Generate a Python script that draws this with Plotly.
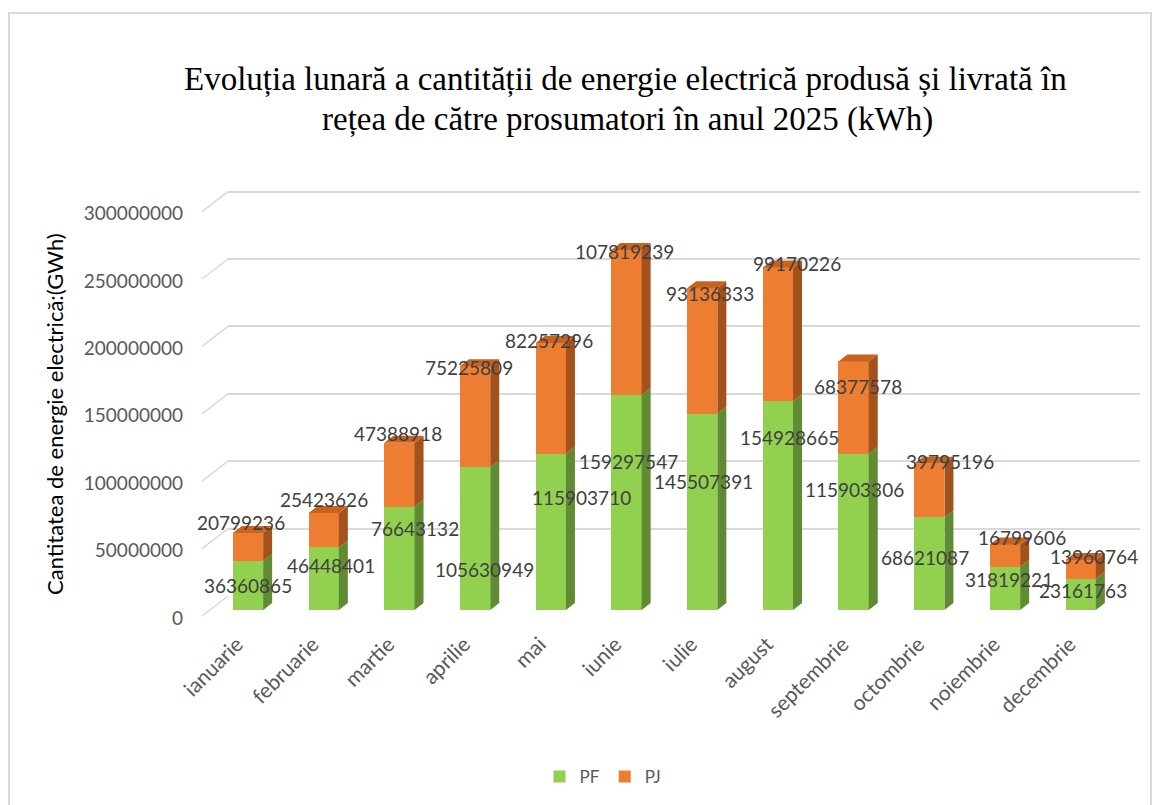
import plotly.graph_objects as go

# ---- data (kWh) ----
months = ["ianuarie", "februarie", "martie", "aprilie", "mai", "iunie",
          "iulie", "august", "septembrie", "octombrie", "noiembrie", "decembrie"]
pf_values = [36360865, 46448401, 76643132, 105630949, 115903710, 159297547,
             145507391, 154928665, 115903306, 68621087, 31819221, 23161763]
pj_values = [20799236, 25423626, 47388918, 75225809, 82257296, 107819239,
             93136333, 99170226, 68377578, 39795196, 16799606, 13960764]
y_ticks = [0, 50000000, 100000000, 150000000, 200000000, 250000000, 300000000]

# ---- label nudges (px) for the data labels ----
pf_xshift = [0, 7, 16, 9, 31, 2, 1, 12, 1, -4, 4, 2]
pf_yshift = [0, 13, 30, -31, 34, 41, 30, 68, 42, 6, 9, 4]
pj_xshift = [-7, 0, -1, -6, -2, -2, 8, 19, 4, 21, 17, 13]
pj_yshift = [10, 14, 9, -1, 2, -2, -5, 4, -25, 2, 7, 3]

# ---- geometry ----
W, H = 1157, 805
Y_MAX = 310e6
K = 1.348e-6              # px per kWh on the value axis
BAR_W = 0.4
DX = 9 / 75.7             # depth of the 3D side, in category units
DY = 7 / K                # depth of the 3D side, in value units

bars_left, bars_right = 202, 1140
bars_zero_px = 610
grid_left = 228
grid_zero_px = 596
cat0_px, cat_step = 248, 75.7


def px_x(p):
    return p / W


def px_y(p):
    return 1 - p / H


GREEN, GREEN_SIDE = "#92D050", "#5F8B33"
ORANGE, ORANGE_SIDE, ORANGE_TOP = "#ED7D31", "#A4521C", "#C8621F"
GRID = "#D9D9D9"

fig = go.Figure()

# back-wall grid lives on its own subplot (drawn first, so below the bars)
fig.add_trace(go.Scatter(x=[None], y=[None], xaxis="x", yaxis="y",
                         showlegend=False, hoverinfo="skip"))

fig.add_trace(go.Bar(x=list(range(12)), y=pf_values, name="PF", width=BAR_W,
                     marker=dict(color=GREEN, line=dict(width=0)),
                     xaxis="x2", yaxis="y2"))
fig.add_trace(go.Bar(x=list(range(12)), y=pj_values, name="PJ", width=BAR_W,
                     marker=dict(color=ORANGE, line=dict(width=0)),
                     xaxis="x2", yaxis="y2"))

shapes = []
# 3D sides and tops of the columns
for i, (pf, pj) in enumerate(zip(pf_values, pj_values)):
    xl, xr = i - BAR_W / 2, i + BAR_W / 2
    for y0, y1, col in ((0, pf, GREEN_SIDE), (pf, pf + pj, ORANGE_SIDE)):
        shapes.append(dict(
            type="path", xref="x2", yref="y2", layer="above",
            path=f"M{xr},{y0} L{xr + DX},{y0 + DY} L{xr + DX},{y1 + DY} L{xr},{y1} Z",
            fillcolor=col, line=dict(width=0)))
    top = pf + pj
    shapes.append(dict(
        type="path", xref="x2", yref="y2", layer="above",
        path=f"M{xl},{top} L{xl + DX},{top + DY} L{xr + DX},{top + DY} L{xr},{top} Z",
        fillcolor=ORANGE_TOP, line=dict(width=0)))

# short diagonal floor lines from the value labels to the back wall
for v in y_ticks:
    shapes.append(dict(
        type="line", xref="paper", yref="paper", layer="below",
        x0=px_x(bars_left), y0=px_y(grid_zero_px + 20 - v * K),
        x1=px_x(grid_left), y1=px_y(grid_zero_px - v * K),
        line=dict(color=GRID, width=1.5)))

# chart border
shapes.append(dict(type="rect", xref="paper", yref="paper", layer="below",
                   x0=px_x(9), x1=px_x(1151), y0=-0.02, y1=px_y(13),
                   line=dict(color=GRID, width=2), fillcolor="rgba(0,0,0,0)"))

annotations = []
label_font = dict(family="Lato", size=19, color="#404040")
for i, (pf, pj) in enumerate(zip(pf_values, pj_values)):
    annotations.append(dict(x=i, y=pf / 2, xref="x2", yref="y2", text=str(pf),
                            showarrow=False, font=label_font,
                            xshift=pf_xshift[i], yshift=pf_yshift[i]))
    annotations.append(dict(x=i, y=pf + pj, xref="x2", yref="y2", text=str(pj),
                            showarrow=False, font=label_font,
                            xshift=pj_xshift[i], yshift=pj_yshift[i]))

title_font = dict(family="Liberation Serif", size=33, color="#000000")
annotations.append(dict(
    x=px_x(625), y=px_y(80), xref="paper", yref="paper", showarrow=False,
    text="Evoluția lunară a cantității de energie electrică produsă și livrată în",
    font=title_font, xanchor="center", yanchor="middle"))
annotations.append(dict(
    x=px_x(627), y=px_y(119), xref="paper", yref="paper", showarrow=False,
    text="rețea de către prosumatori în anul 2025 (kWh)",
    font=title_font, xanchor="center", yanchor="middle"))
annotations.append(dict(
    x=px_x(55), y=px_y(414), xref="paper", yref="paper", showarrow=False,
    text="Cantitatea de energie electrică:(GWh)", textangle=-90,
    font=dict(family="Lato", size=22, color="#000000"),
    xanchor="center", yanchor="middle"))

fig.update_layout(
    width=W, height=H, autosize=False,
    margin=dict(l=0, r=0, t=0, b=0, pad=0, autoexpand=False),
    paper_bgcolor="white", plot_bgcolor="rgba(0,0,0,0)",
    barmode="stack", bargap=0,
    showlegend=True,
    legend=dict(orientation="h", x=px_x(603), y=px_y(777),
                xanchor="center", yanchor="middle", traceorder="normal",
                font=dict(family="Lato", size=17, color="#595959"),
                itemwidth=30),
    xaxis=dict(domain=[px_x(grid_left), px_x(bars_right)], range=[0, 1],
               visible=False, anchor="y", automargin=False),
    yaxis=dict(domain=[px_y(grid_zero_px), px_y(grid_zero_px - Y_MAX * K)],
               range=[0, Y_MAX], anchor="x", tickvals=y_ticks,
               showticklabels=False, showgrid=True, gridcolor=GRID,
               gridwidth=1.5, zeroline=False, showline=False, ticks="",
               automargin=False),
    xaxis2=dict(domain=[px_x(bars_left), px_x(bars_right)],
                range=[(bars_left - cat0_px) / cat_step,
                       (bars_right - cat0_px) / cat_step],
                anchor="y2", tickvals=list(range(12)), ticktext=months,
                tickangle=-45, showgrid=False, zeroline=False, showline=False,
                ticks="", ticklabelstandoff=17, ticklabelshift=-11,
                automargin=False,
                tickfont=dict(family="Lato", size=21, color="#595959")),
    yaxis2=dict(domain=[px_y(bars_zero_px), px_y(bars_zero_px - Y_MAX * K)],
                range=[0, Y_MAX], anchor="x2", tickvals=y_ticks,
                ticktext=[str(v) for v in y_ticks],
                showgrid=False, zeroline=False, showline=False, ticks="",
                ticklabelshift=8, ticklabelstandoff=18, automargin=False,
                tickfont=dict(family="Lato", size=19, color="#595959")),
    shapes=shapes,
    annotations=annotations,
)

fig.write_html("out.html")
